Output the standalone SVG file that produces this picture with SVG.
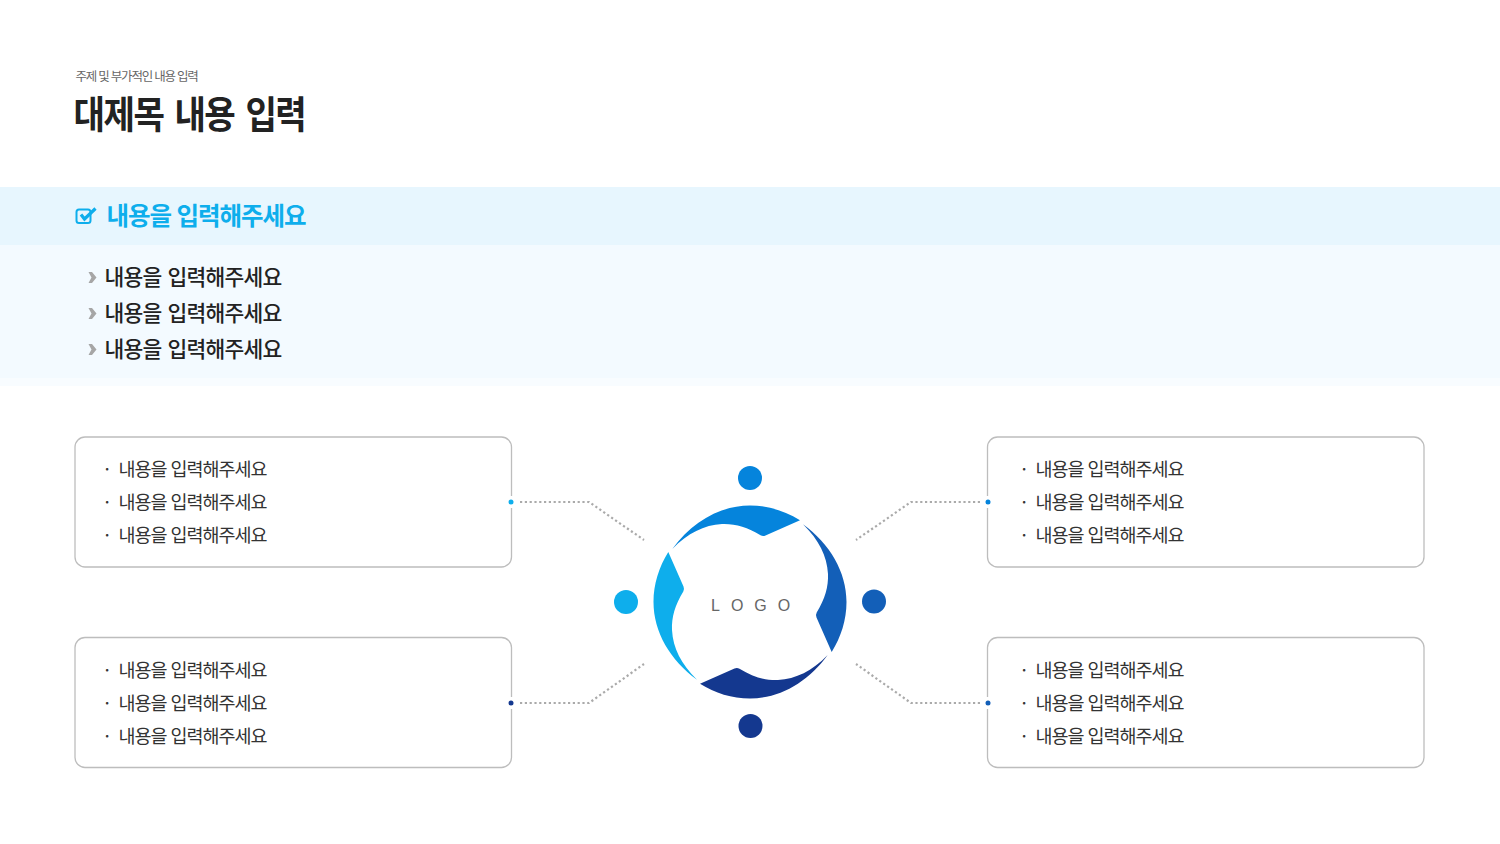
<svg xmlns="http://www.w3.org/2000/svg" xmlns:xlink="http://www.w3.org/1999/xlink" width="1500" height="844" viewBox="0 0 1500 844">
<style>
text{font-family:"Noto Sans CJK KR","Noto Sans",sans-serif}
.box{fill:#fff;stroke:#bdbdbd;stroke-width:1.3}
.t{font-size:18.5px;fill:#333;letter-spacing:-1.02px;word-spacing:.9px}
.b{font-size:21.5px;fill:#222;font-weight:500;letter-spacing:-.78px;word-spacing:2px}
.dl{fill:none;stroke:#aaa;stroke-width:2.2;stroke-dasharray:2.2 2.6}
.halo{fill:#fff}
</style>
<defs>
<path id="seg" d="M672.3 549C692 522 720 505.500 750 505.500C768 505.500 785 511 800 520.300L765.500 535.500Q763 536.600 760.500 535.300C747 527 735 523.500 722 524C704 525 688 533 672.300 549Z"/>
<path id="chev" d="M0 0H3.500L8 5.500L3.500 11H0L3 5.500Z" fill="#a6a6a6"/>
</defs>
<rect width="1500" height="844" fill="#fff"/>
<g id="bands">
<rect y="187" width="1500" height="58" fill="#e7f6fe"/>
<rect y="245" width="1500" height="133" fill="#f3faff"/>
<rect y="378" width="1500" height="8" fill="#f8fcff"/>
</g>
<g id="title">
<text x="75.500" y="81" font-size="12.5" fill="#666" letter-spacing="-1.2" word-spacing=".6">주제 및 부가적인 내용 입력</text>
<text transform="translate(73.500 127.500) scale(.9 1)" font-size="38" font-weight="700" fill="#222" letter-spacing="-1.67" word-spacing="5.4">대제목 내용 입력</text>
</g>
<g id="header">
<rect x="76.500" y="209.500" width="14" height="13.500" rx="2.500" fill="none" stroke="#0eaeec" stroke-width="2"/>
<path d="M81 214.500L84.500 219L95.500 208.500" fill="none" stroke="#0eaeec" stroke-width="3.200"/>
<text x="106.500" y="225" font-size="24.500" font-weight="700" fill="#0eaeec" letter-spacing="-1.04" word-spacing="1">내용을 입력해주세요</text>
</g>
<g id="bullets">
<use xlink:href="#chev" href="#chev" x="88.500" y="272"/>
<use xlink:href="#chev" href="#chev" x="88.500" y="308"/>
<use xlink:href="#chev" href="#chev" x="88.500" y="344"/>
<text class="b" x="104.500" y="285">내용을 입력해주세요</text>
<text class="b" x="104.500" y="321">내용을 입력해주세요</text>
<text class="b" x="104.500" y="357">내용을 입력해주세요</text>
</g>
<g id="box-tl">
<rect class="box" x="75" y="437" width="436.500" height="130" rx="10"/>
<text class="t" x="102" y="476">·</text><text class="t" x="118.500" y="476">내용을 입력해주세요</text>
<text class="t" x="102" y="509">·</text><text class="t" x="118.500" y="509">내용을 입력해주세요</text>
<text class="t" x="102" y="542">·</text><text class="t" x="118.500" y="542">내용을 입력해주세요</text>
<rect class="halo" x="507" y="496" width="8" height="12"/>
<circle cx="511" cy="502" r="2.500" fill="#0eaeec"/>
</g>
<g id="box-tr">
<rect class="box" x="987.500" y="437" width="436.500" height="130" rx="10"/>
<text class="t" x="1019" y="476">·</text><text class="t" x="1035.500" y="476">내용을 입력해주세요</text>
<text class="t" x="1019" y="509">·</text><text class="t" x="1035.500" y="509">내용을 입력해주세요</text>
<text class="t" x="1019" y="542">·</text><text class="t" x="1035.500" y="542">내용을 입력해주세요</text>
<rect class="halo" x="984" y="496" width="8" height="12"/>
<circle cx="988" cy="502" r="2.500" fill="#0584dc"/>
</g>
<g id="box-bl">
<rect class="box" x="75" y="637.500" width="436.500" height="130" rx="10"/>
<text class="t" x="102" y="677">·</text><text class="t" x="118.500" y="677">내용을 입력해주세요</text>
<text class="t" x="102" y="710">·</text><text class="t" x="118.500" y="710">내용을 입력해주세요</text>
<text class="t" x="102" y="743">·</text><text class="t" x="118.500" y="743">내용을 입력해주세요</text>
<rect class="halo" x="507" y="697" width="8" height="12"/>
<circle cx="511" cy="703" r="2.500" fill="#14388f"/>
</g>
<g id="box-br">
<rect class="box" x="987.500" y="637.500" width="436.500" height="130" rx="10"/>
<text class="t" x="1019" y="677">·</text><text class="t" x="1035.500" y="677">내용을 입력해주세요</text>
<text class="t" x="1019" y="710">·</text><text class="t" x="1035.500" y="710">내용을 입력해주세요</text>
<text class="t" x="1019" y="743">·</text><text class="t" x="1035.500" y="743">내용을 입력해주세요</text>
<rect class="halo" x="984" y="697" width="8" height="12"/>
<circle cx="988" cy="703" r="2.500" fill="#135fb8"/>
</g>
<g id="connectors">
<path class="dl" d="M520 502H589L644 540"/>
<path class="dl" d="M980 502H911L856 540"/>
<path class="dl" d="M520 703H589L644 664"/>
<path class="dl" d="M980 703H911L856 664"/>
</g>
<g id="logo">
<use xlink:href="#seg" href="#seg" fill="#0584dc"/>
<use xlink:href="#seg" href="#seg" fill="#135fb8" transform="rotate(90 750 602)"/>
<use xlink:href="#seg" href="#seg" fill="#14388f" transform="rotate(180 750 602)"/>
<use xlink:href="#seg" href="#seg" fill="#0eaeec" transform="rotate(270 750 602)"/>
<text x="711" y="610.500" font-size="16" fill="#666" letter-spacing="11" style="font-family:'Liberation Sans',sans-serif">LOGO</text>
</g>
<g id="dots">
<circle cx="750" cy="478" r="12" fill="#0584dc"/>
<circle cx="874" cy="601.500" r="12" fill="#135fb8"/>
<circle cx="750.500" cy="726" r="12" fill="#14388f"/>
<circle cx="626" cy="602" r="12" fill="#0eaeec"/>
</g>
</svg>
